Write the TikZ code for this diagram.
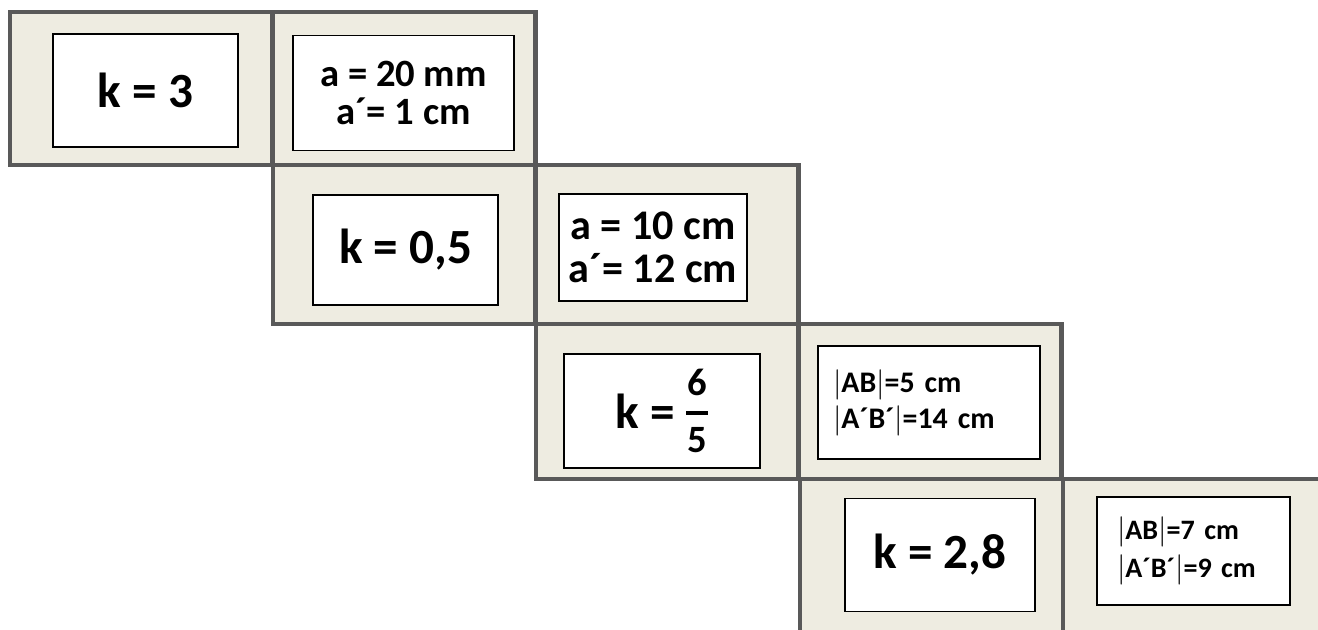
\documentclass[tikz,border=0pt]{standalone}
\usepackage{amsmath}
\usepackage{fontspec}
\setmainfont{Carlito}

\definecolor{rand}{HTML}{595959}
\definecolor{papier}{HTML}{EEECE1}

% Bruch mit dickem Strich
\newcommand\bruch[2]{\raisebox{-14pt}{\vbox{\hbox to 12.5pt{\hss#1\hss}\kern8.6pt\hrule height 2.4pt\kern7.1pt\hbox to 12.5pt{\hss#2\hss}}}}

\tikzset{
  feld/.style={draw=rand, fill=papier, line width=2.8pt, rectangle, outer sep=0pt, inner sep=0pt, anchor=north west},
  kasten/.style={draw=black, fill=white, line width=1pt, outer sep=0pt},
  gross/.style={font=\fontsize{28}{34}\selectfont\bfseries},
  mittel/.style={font=\fontsize{22}{21.5}\selectfont\bfseries, align=center},
  klein/.style={font=\fontsize{17}{20.4}\selectfont\bfseries, align=left},
}

\begin{document}
\begin{tikzpicture}[x=0.02cm, y=-0.02cm]
    % Bildrand
    \useasboundingbox (0,0) rectangle (1318,629);
    \clip (0,0) rectangle (1318,629);

    % Feldbreite
    \def\b{5.26cm}

    % Felder, je zwei pro Zeile, als Treppe
    \foreach \x/\y/\hh [count=\i] in {10/12/153, 273/165/159, 536/324/155, 800/479/170} {
        \node[feld, minimum width=\b, minimum height=\hh*0.02cm] (l\i) at (\x,\y) {};
        \node[feld, minimum width=\b, minimum height=\hh*0.02cm] (r\i) at (l\i.north east) {};
    }

    % Karten mit k
    \node[kasten, gross, minimum width=3.7cm, minimum height=2.26cm] (k1) at (145.5,90.5) {k = 3};
    \node[kasten, gross, minimum width=3.7cm, minimum height=2.2cm] (k2) at (405.5,250) {k = 0,5};
    \node[kasten, gross, minimum width=3.92cm, minimum height=2.28cm] (k3) at (662,411) {k = \bruch{\fontsize{22}{22}\selectfont 6}{\fontsize{22}{22}\selectfont 5}};
    \node[kasten, gross, minimum width=3.8cm, minimum height=2.26cm] (k4) at (940,555) {k = 2,8};

    % Karten mit Strecken
    \node[kasten, mittel, minimum width=4.42cm, minimum height=2.3cm] (a1) at (403.5,93) {a = 20 mm\\a´= 1 cm};
    \node[kasten, mittel, font=\fontsize{24}{24.4}\selectfont\bfseries, minimum width=3.76cm, minimum height=2.14cm] (a2) at (653,247.5) {a = 10 cm\\a´= 12 cm};
    \node[kasten, klein, minimum width=4.44cm, minimum height=2.26cm, text width=3.84cm, inner xsep=0.3cm] (a3) at (929,402.5) {$|$AB$|$=5 cm\\$|$A´B´$|$=14 cm};
    \node[kasten, klein, font=\fontsize{16}{21.5}\selectfont\bfseries, minimum width=3.86cm, minimum height=2.16cm, text width=3.06cm, inner xsep=0.4cm] (a4) at (1193.5,551) {$|$AB$|$=7 cm\\$|$A´B´$|$=9 cm};
\end{tikzpicture}
\end{document}
